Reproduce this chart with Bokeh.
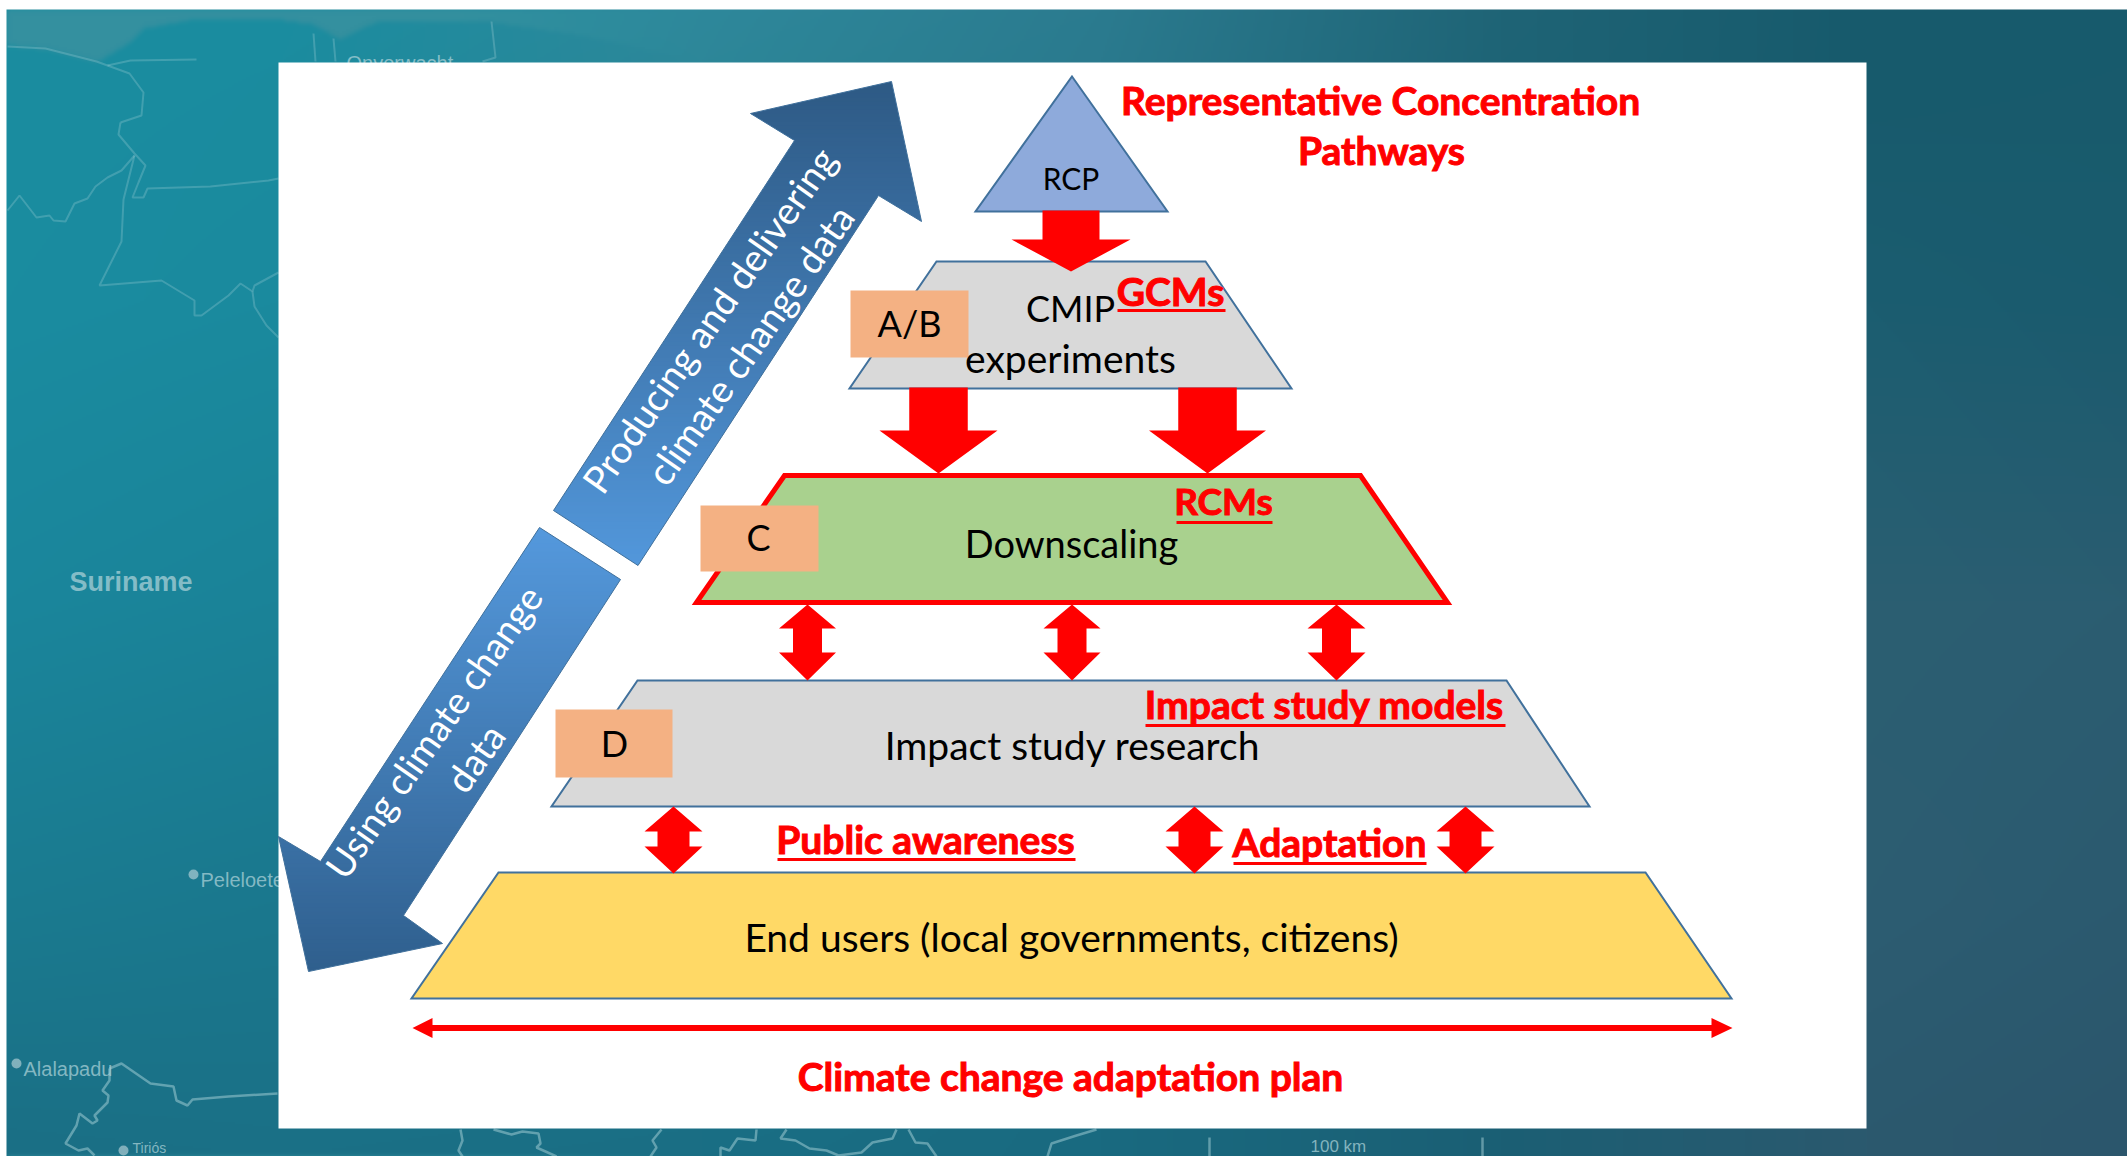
import numpy as np
from bokeh.plotting import figure
from bokeh.models import Range1d
from bokeh.core.properties import value
from bokeh.embed import file_html
from bokeh.resources import INLINE

W, H = 2127, 1156
OX, OY = 0, 0
FONT = "Lato"
MAPFONT = "Liberation Sans"

# ---------- background colour table ----------
bg_x = [6, 278, 700, 1100, 1500, 1866, 2127]
bg_y = [9, 62, 300, 600, 900, 1128, 1156]
bg_hex = [
    ["#1a8da0", "#1a8da0", "#2e889b", "#2b7b8f", "#1f6476", "#175a6c", "#185b6c"],
    ["#1a8da0", "#1b8c9f", "#2d8799", "#2a7a8e", "#1e6476", "#175a6c", "#185b6c"],
    ["#1a8ca0", "#1a8a9e", "#1a8297", "#1d7589", "#1e6578", "#1b5d70", "#1a5b6e"],
    ["#1a869c", "#1a8398", "#1a7b90", "#1c7085", "#206579", "#2b5f72", "#2b5d71"],
    ["#1a7b90", "#1a788e", "#1a7389", "#1c6b80", "#226276", "#2d5d72", "#2b5a6f"],
    ["#1a7086", "#1a7187", "#1a6f85", "#196a80", "#1b5f74", "#2b596e", "#2b566c"],
    ["#1a6f85", "#1a7086", "#1a6e84", "#196a80", "#1b5f74", "#2b596e", "#2b566c"],
]
shoal_colour = "#34909f"

# ---------- map decoration on the background ----------
map_top = [
    [(7,210),(19,195),(36,217),(49,215),(53,220),(65,221),(74,203),(87,198),(95,186),(107,177),(121,170),(134,155)],
    [(120,122),(118,134),(134,153),(145,165),(138,182),(132,197),(143,197),(147,188),(210,186),(268,180),(278,178)],
    [(134,155),(123,199),(121,241),(99,285),(161,280),(194,300),(194,315),(201,315),(228,295),(240,283),(252,291),(254,285),(278,272)],
    [(252,291),(254,306),(266,325),(278,337)],
    [(7,46),(45,48),(96,61),(129,73),(143,92),(141,115),(120,122)],
    [(107,65),(130,60),(196,59)],
    [(313,33),(315,61)],
    [(333,38),(335,61)],
    [(491,21),(495,57),(482,61)],
]
map_bottom = [
    [(109,1068),(121,1063),(150,1083),(173,1086),(176,1100),(187,1105),(192,1099),(228,1096),(277,1093)],
    [(109,1068),(109,1080),(102,1090),(108,1095),(107,1102),(94,1115),(97,1120),(92,1123),(79,1113),(76,1125),(65,1143),(78,1150),(87,1148),(94,1155)],
    [(460,1129),(462,1140),(458,1150),(462,1156)],
    [(493,1129),(511,1134),(522,1131),(538,1133),(540,1143),(536,1147),(545,1151),(556,1156)],
    [(661,1129),(652,1140),(656,1147),(650,1156)],
    [(720,1156),(720,1147),(729,1150),(737,1138),(755,1140),(756,1129)],
    [(786,1129),(780,1138),(795,1140),(809,1148),(826,1150),(838,1155),(861,1152),(872,1142),(892,1138),(896,1129)],
    [(908,1129),(915,1142),(927,1143),(936,1156)],
    [(1047,1156),(1051,1143),(1076,1135),(1096,1129)],
    [(1209,1137),(1209,1156)],
    [(1482,1137),(1482,1156)],
]
shoal_x = [6,720,720,580,491,446,375,357,339,312,268,188,143,127,96,45,6]
shoal_y = [9,9,64,34,21,19,21,29,38,23,17,19,27,42,61,48,44]
place_x = [69, 200, 23, 132, 346, 1310]
place_y = [581, 879, 1068, 1147, 62, 1146]
place_names = ["Suriname", "Peleloete", "Alalapadu", "Tiriós", "Onverwacht", "100 km"]
place_sizes = ["27px", "20px", "20px", "14px", "20px", "17px"]
place_styles = ["bold", "normal", "normal", "normal", "normal", "normal"]
dot_x = [193, 16, 123]
dot_y = [874, 1063, 1150]

# ---------- panel ----------
panel = (278, 1866, 62, 1128)

# ---------- pyramid tiers: x of corners, y of corners ----------
tier_names = ["RCP", "CMIP", "Downscaling", "Impact", "End users"]
tier_xs = [
    [1071.5, 1167, 975],
    [936, 1205, 1291, 849],
    [784, 1360, 1447, 696],
    [637, 1506, 1589, 551],
    [498, 1645, 1731, 411],
]
tier_ys = [
    [76, 211, 211],
    [261, 261, 388, 388],
    [475, 475, 602, 602],
    [680, 680, 806, 806],
    [872, 872, 998, 998],
]
tier_fill = ["#8eaadb", "#d9d9d9", "#a9d18e", "#d9d9d9", "#ffd966"]
tier_line = ["#41719c", "#41719c", "#ff0000", "#41719c", "#41719c"]
tier_width = [2, 2, 5, 2, 2]

# ---------- letter boxes ----------
box_left = [850, 700, 555]
box_right = [968, 818, 672]
box_top = [290, 505, 709]
box_bottom = [357, 571, 777]
box_labels = ["A/B", "C", "D"]

# ---------- red block arrows ----------
down_cx = [1070.5, 938, 1207]
down_y0 = [210, 387, 387]
down_ys = [239, 430, 430]
down_y1 = [271, 473, 473]
down_sw = [57, 58.5, 58.5]
down_hw = [119, 118, 117]
dbl_cx = [807, 1071.5, 1336, 673, 1194, 1465]
dbl_y0 = [604, 604, 604, 806, 806, 806]
dbl_s0 = [628, 628, 628, 831, 831, 831]
dbl_s1 = [652, 652, 652, 846, 846, 846]
dbl_y1 = [680, 680, 680, 873, 873, 873]
dbl_sw = [29, 29, 29, 32, 32, 32]
dbl_hw = [57, 57, 58, 58, 58, 58]
plan_x = [412, 432, 1711, 1732]
plan_y = 1027.5
plan_t = 6
plan_h = 20

# ---------- big gradient arrows ----------
up_x = [553, 794, 750, 891, 921, 878, 637.5]
up_y = [510, 140, 113, 81, 221, 195, 565]
up_cols = ("#2e5a85", "#5398dc")
dn_x = [539, 320, 278, 308, 442, 403, 620]
dn_y = [527, 861, 836, 971, 943, 915, 579]
dn_cols = ("#5599dd", "#2f5f8d")

# ---------- texts ----------
black_txt = ["RCP", "CMIP", "experiments", "Downscaling", "Impact study research", "End users (local governments, citizens)"]
black_x = [1070.5, 1070, 1070, 1071, 1072, 1071]
black_y = [177, 307, 357, 542, 744, 936]
black_sz = ["30px", "36px", "39px", "38px", "39px", "39px"]

box_tx = [909, 758, 614]
box_ty = [322, 536, 742]

red_txt = ["Representative Concentration", "Pathways", "GCMs", "RCMs", "Impact study models", "Public awareness", "Adaptation", "Climate change adaptation plan"]
red_x = [1380, 1381, 1170, 1223, 1324, 925, 1329, 1070]
red_y = [99, 149, 290, 500, 703, 838, 841, 1075]
red_sz = ["39px", "39px", "39px", "37px", "39px", "39px", "39px", "39px"]

ul_x0 = [1117, 1176, 1145, 777, 1233]
ul_x1 = [1225, 1272, 1505, 1075, 1426]
ul_y = [311, 523, 726, 860, 864]

arrow_txt = ["Producing and delivering", "climate change data", "Using climate change", "data"]
arrow_tx = [708, 749, 433, 474]
arrow_ty = [319, 344, 731, 757]
arrow_deg = [55, 55, 55, 55]
arrow_sz = ["38px", "38px", "37.5px", "38px"]


def hex2rgb(h):
    return np.array([int(h[i:i + 2], 16) for i in (1, 3, 5)], dtype=float)


def clip_band(xs, ys, y0, y1):
    pts = list(zip(xs, ys))
    for limit, keep_below in ((y0, True), (y1, False)):
        out = []
        for i in range(len(pts)):
            a, b = pts[i], pts[(i + 1) % len(pts)]
            ina = a[1] >= limit if keep_below else a[1] <= limit
            inb = b[1] >= limit if keep_below else b[1] <= limit
            if ina:
                out.append(a)
            if ina != inb:
                t = (limit - a[1]) / (b[1] - a[1])
                out.append((a[0] + t * (b[0] - a[0]), limit))
        pts = out
        if not pts:
            break
    return [q[0] for q in pts], [q[1] for q in pts]


def inside(X, Y, xs, ys):
    c = np.zeros_like(X, dtype=bool)
    n = len(xs)
    for i in range(n):
        x0, y0, x1, y1 = xs[i], ys[i], xs[(i + 1) % n], ys[(i + 1) % n]
        if y0 == y1:
            continue
        cond = ((y0 > Y) != (y1 > Y)) & (X < (x1 - x0) * (Y - y0) / (y1 - y0) + x0)
        c ^= cond
    return c


p = figure(width=W, height=H, x_range=Range1d(OX, OX + W), y_range=Range1d(OY + H, OY),
           output_backend="svg", toolbar_location=None, min_border=0,
           border_fill_color="#ffffff", background_fill_color="#ffffff", outline_line_color=None)
p.xaxis.visible = False
p.yaxis.visible = False
p.grid.visible = False

# background raster, from the colour table
gx = np.arange(bg_x[0], bg_x[-1] + 1, 2.0)
gy = np.arange(bg_y[0], bg_y[-1] + 1, 2.0)
tab = np.array([[hex2rgb(c) for c in row] for row in bg_hex])
byx = np.zeros((len(bg_y), len(gx), 3))
for r in range(len(bg_y)):
    for c in range(3):
        byx[r, :, c] = np.interp(gx, bg_x, tab[r, :, c])
cube = np.zeros((len(gy), len(gx), 3))
for j in range(len(gx)):
    for c in range(3):
        cube[:, j, c] = np.interp(gy, bg_y, byx[:, j, c])
X, Y = np.meshgrid(gx, gy)
mask = inside(X, Y, shoal_x, shoal_y).astype(float)
for _ in range(3):
    mask = (mask + np.roll(mask, 1, 0) + np.roll(mask, -1, 0) + np.roll(mask, 1, 1) + np.roll(mask, -1, 1)) / 5.0
fade = np.clip((700 - X) / 250.0, 0, 1) * mask
cube = cube * (1 - fade[..., None]) + hex2rgb(shoal_colour) * fade[..., None]
img = np.zeros((len(gy), len(gx), 4), dtype=np.uint8)
img[:, :, :3] = cube.astype(np.uint8)
img[:, :, 3] = 255
rgba = img.view(dtype=np.uint32).reshape(img.shape[:2])
p.image_rgba(image=[rgba], x=bg_x[0], y=bg_y[0], dw=bg_x[-1] - bg_x[0], dh=bg_y[-1] - bg_y[0])

p.multi_line([[q[0] for q in m] for m in map_top], [[q[1] for q in m] for m in map_top],
             line_color="#a9d3da", line_alpha=0.28, line_width=2)
p.multi_line([[q[0] for q in m] for m in map_bottom], [[q[1] for q in m] for m in map_bottom],
             line_color="#a9d3da", line_alpha=0.5, line_width=2.5)
p.scatter(dot_x, dot_y, size=10, fill_color="#c4dbe0", fill_alpha=0.6, line_color=None)
for t, x, y, s, st in zip(place_names, place_x, place_y, place_sizes, place_styles):
    p.text([x], [y], text=[t], text_font=value(MAPFONT), text_font_size=s, text_font_style=st,
           text_color="#a8cfd6", text_alpha=0.75, text_baseline="middle", text_align="left")

# white panel
p.quad(left=panel[0], right=panel[1], top=panel[2], bottom=panel[3], fill_color="#ffffff", line_color=None)


def gradient_arrow(xs, ys, cols):
    ya, yb = min(ys), max(ys)
    c0, c1 = hex2rgb(cols[0]), hex2rgb(cols[1])
    bxs, bys, cs = [], [], []
    for e in np.arange(ya, yb, 4.0):
        bx, by = clip_band(xs, ys, e, min(e + 5, yb))
        if len(bx) >= 3:
            t = (e - ya) / (yb - ya)
            c = c0 + (c1 - c0) * t
            bxs.append(bx); bys.append(by)
            cs.append("#%02x%02x%02x" % tuple(int(v) for v in c))
    p.patches(bxs, bys, fill_color=cs, line_color=None)
    p.patch(xs, ys, fill_color=None, line_color="#41719c", line_width=1)


gradient_arrow(up_x, up_y, up_cols)
gradient_arrow(dn_x, dn_y, dn_cols)

# tiers
for i in range(len(tier_names)):
    p.patch(tier_xs[i], tier_ys[i], fill_color=tier_fill[i], line_color=tier_line[i],
            line_width=tier_width[i], line_join="miter")

# red arrows
dxs, dys = [], []
for cx, y0, ys_, y1, sw, hw in zip(down_cx, down_y0, down_ys, down_y1, down_sw, down_hw):
    dxs.append([cx - sw / 2, cx + sw / 2, cx + sw / 2, cx + hw / 2, cx, cx - hw / 2, cx - sw / 2])
    dys.append([y0, y0, ys_, ys_, y1, ys_, ys_])
for cx, y0, s0, s1, y1, sw, hw in zip(dbl_cx, dbl_y0, dbl_s0, dbl_s1, dbl_y1, dbl_sw, dbl_hw):
    dxs.append([cx, cx + hw / 2, cx + sw / 2, cx + sw / 2, cx + hw / 2, cx, cx - hw / 2, cx - sw / 2, cx - sw / 2, cx - hw / 2])
    dys.append([y0, s0, s0, s1, s1, y1, s1, s1, s0, s0])
dxs.append([plan_x[0], plan_x[1], plan_x[1], plan_x[2], plan_x[2], plan_x[3], plan_x[2], plan_x[2], plan_x[1], plan_x[1]])
dys.append([plan_y, plan_y - plan_h / 2, plan_y - plan_t / 2, plan_y - plan_t / 2, plan_y - plan_h / 2, plan_y,
            plan_y + plan_h / 2, plan_y + plan_t / 2, plan_y + plan_t / 2, plan_y + plan_h / 2])
p.patches(dxs, dys, fill_color="#ff0000", line_color=None)

# letter boxes
p.quad(left=box_left, right=box_right, top=box_top, bottom=box_bottom, fill_color="#f4b183", line_color=None)

p.text(box_tx, box_ty, text=box_labels, text_font=value(FONT), text_font_size="36px", text_color="#000000",
       text_align="center", text_baseline="middle")
for t, x, y, s in zip(black_txt, black_x, black_y, black_sz):
    p.text([x], [y], text=[t], text_font=value(FONT), text_font_size=s, text_color="#000000",
           text_align="center", text_baseline="middle")
for t, x, y, s in zip(red_txt, red_x, red_y, red_sz):
    p.text([x], [y], text=[t], text_font=value(FONT), text_font_size=s, text_font_style="bold",
           text_color="#ff0000", text_outline_color="#ff0000", text_align="center", text_baseline="middle")
p.segment(ul_x0, [u - 1 for u in ul_y], ul_x1, [u - 1 for u in ul_y], line_color="#ff0000", line_width=3)
for t, x, y, s, d in zip(arrow_txt, arrow_tx, arrow_ty, arrow_sz, arrow_deg):
    p.text([x], [y], text=[t], angle=[np.deg2rad(d)], text_font=value(FONT), text_font_size=s,
           text_color="#ffffff", text_align="center", text_baseline="middle")

open("out.html", "w").write(file_html(p, INLINE))
